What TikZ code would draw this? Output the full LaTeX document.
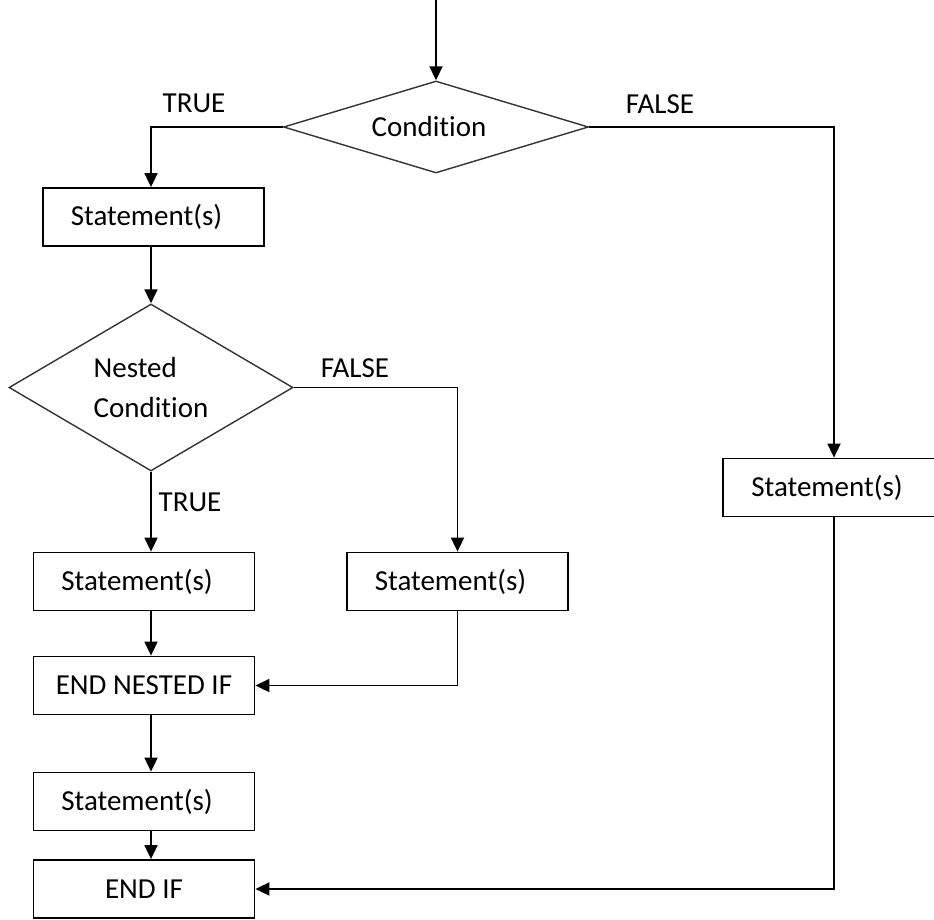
\documentclass[tikz,border=0pt]{standalone}
\usepackage{fontspec}
\setmainfont{Carlito}[Ligatures=NoCommon]
\usetikzlibrary{shapes.geometric,arrows.meta}
\newcommand{\shl}{\hspace*{-14pt}}
\begin{document}
\begin{tikzpicture}[x=1pt,y=-1pt,
  box/.style={draw=black, line width=1.8pt, minimum width=221pt, minimum height=58pt, inner sep=0pt, font=\fontsize{29}{35}\selectfont},
  dia/.style={draw=black!80, line width=1.4pt, diamond, inner sep=0pt, font=\fontsize{29}{40}\selectfont, align=left},
  lbl/.style={font=\fontsize{29}{35}\selectfont, anchor=base, inner sep=0pt},
  arr/.style={line width=1.8pt, -{Triangle[length=14pt,width=13pt]}}]
\useasboundingbox (0,0) rectangle (934,920);
\coordinate (start) at (436,0);
\node[dia, aspect=3.3, minimum width=305pt, minimum height=92pt] (cond) at (436,127) {\shl Condition};
\node[box] (s1) at (153.5,217) {\shl Statement(s)};
\node[dia, aspect=1.7, minimum width=284pt, minimum height=167pt] (nd) at (151,387.5) {Nested\\Condition};
\node[box] (s2) at (144,581.5) {\shl Statement(s)};
\node[box] (s3) at (457.5,581.5) {\shl Statement(s)};
\node[box] (en) at (144,685.5) {END NESTED IF};
\node[box] (s4) at (144,801.5) {\shl Statement(s)};
\node[box] (ei) at (144,889) {END IF};
\node[box, minimum width=222pt] (rs) at (834,487.5) {\shl Statement(s)};
\node[lbl] (t1) at (194,113) {TRUE};
\node[lbl] (f1) at (660,114) {FALSE};
\node[lbl] (f2) at (355,377) {FALSE};
\node[lbl] (t2) at (190,511) {TRUE};
\draw[arr] (start) -- (cond.north);
\draw[arr] (cond.west) -| (s1.north -| nd.north);
\draw[arr] (s1.south -| nd.north) -- (nd.north);
\draw[arr] (nd.south) -- (nd.south |- s2.north);
\draw[arr] (nd.east) -| (s3.north);
\draw[arr] (s2.south -| nd.south) -- (en.north -| nd.south);
\draw[arr] (s3.south) |- (en.east);
\draw[arr] (en.south -| nd.south) -- (s4.north -| nd.south);
\draw[arr] (s4.south -| nd.south) -- (ei.north -| nd.south);
\draw[arr] (cond.east) -| (rs.north);
\draw[arr] (rs.south) |- (ei.east);
\end{tikzpicture}
\end{document}
